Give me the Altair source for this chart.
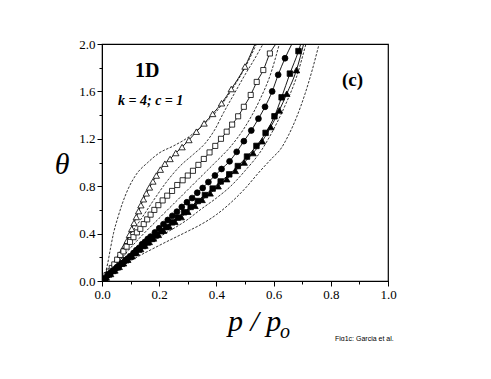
import altair as alt
import pandas as pd

# ---------------- data ----------------
# open triangles (markers) + solid line
OT_P = [0.008, 0.016, 0.024, 0.032, 0.04, 0.048, 0.056, 0.064, 0.072, 0.08, 0.088, 0.096,
        0.104, 0.112, 0.12, 0.128, 0.136, 0.145, 0.155, 0.166, 0.178, 0.19, 0.204, 0.22,
        0.238, 0.258, 0.28, 0.304, 0.33, 0.357, 0.387, 0.418, 0.452, 0.5]
OT_T = [0.02, 0.05, 0.08, 0.10, 0.13, 0.16, 0.19, 0.22, 0.26, 0.30, 0.34, 0.39,
        0.44, 0.49, 0.54, 0.59, 0.64, 0.69, 0.74, 0.79, 0.84, 0.89, 0.94, 0.99,
        1.03, 1.08, 1.13, 1.19, 1.26, 1.33, 1.41, 1.50, 1.62, 1.81]
# open squares
OS_P = [0.008, 0.016, 0.025, 0.034, 0.043, 0.053, 0.064, 0.075, 0.086, 0.098, 0.11, 0.122,
        0.134, 0.146, 0.158, 0.17, 0.183, 0.197, 0.212, 0.228, 0.245, 0.263, 0.282, 0.3,
        0.318, 0.337, 0.356, 0.376, 0.396, 0.416, 0.436, 0.455, 0.476, 0.496, 0.52, 0.541,
        0.564, 0.587]
OS_T = [0.02, 0.05, 0.08, 0.11, 0.14, 0.18, 0.22, 0.25, 0.29, 0.33, 0.37, 0.41,
        0.44, 0.48, 0.52, 0.56, 0.60, 0.64, 0.68, 0.72, 0.76, 0.81, 0.85, 0.89,
        0.93, 0.98, 1.03, 1.085, 1.14, 1.20, 1.26, 1.32, 1.39, 1.47, 1.57, 1.68,
        1.78, 1.92]
# filled circles
FC_P = [0.01, 0.02, 0.03, 0.04, 0.05, 0.06, 0.07, 0.08, 0.09, 0.1, 0.11, 0.12, 0.13, 0.14,
        0.15, 0.16, 0.17, 0.185, 0.2, 0.215, 0.23, 0.246, 0.262, 0.279, 0.297, 0.315,
        0.333, 0.352, 0.372, 0.395, 0.418, 0.446, 0.471, 0.496, 0.522, 0.547, 0.57,
        0.595, 0.616, 0.64]
FC_T = [0.02, 0.05, 0.07, 0.09, 0.11, 0.13, 0.15, 0.17, 0.19, 0.21, 0.235, 0.26, 0.28, 0.31,
        0.33, 0.355, 0.375, 0.41, 0.445, 0.48, 0.515, 0.55, 0.585, 0.625, 0.665, 0.70,
        0.745, 0.785, 0.835, 0.89, 0.945, 1.01, 1.09, 1.18, 1.27, 1.37, 1.47,
        1.60, 1.74, 1.88]
# filled squares
FS_P = [0.01, 0.025, 0.04, 0.055, 0.07, 0.085, 0.1, 0.115, 0.13, 0.145, 0.16, 0.175, 0.19,
        0.207, 0.225, 0.245, 0.265, 0.287, 0.31, 0.335, 0.36, 0.387, 0.415, 0.445, 0.475,
        0.507, 0.54, 0.572, 0.603, 0.628, 0.657, 0.687]
FS_T = [0.02, 0.055, 0.085, 0.115, 0.145, 0.175, 0.205, 0.235, 0.265, 0.295, 0.325, 0.355, 0.385,
        0.42, 0.455, 0.495, 0.535, 0.58, 0.625, 0.675, 0.725, 0.78, 0.84, 0.90, 0.97,
        1.05, 1.14, 1.25, 1.39, 1.55, 1.75, 1.94]
# filled triangles
FT_P = [0.015, 0.03, 0.045, 0.06, 0.075, 0.09, 0.105, 0.12, 0.135, 0.15, 0.165, 0.18, 0.197,
        0.215, 0.235, 0.255, 0.277, 0.3, 0.325, 0.35, 0.378, 0.406, 0.436, 0.466, 0.497,
        0.528, 0.56, 0.59, 0.62, 0.646, 0.68]
FT_T = [0.03, 0.06, 0.09, 0.12, 0.15, 0.18, 0.21, 0.24, 0.27, 0.30, 0.33, 0.36, 0.39,
        0.425, 0.46, 0.50, 0.54, 0.585, 0.635, 0.685, 0.74, 0.80, 0.86, 0.93, 1.0,
        1.08, 1.18, 1.30, 1.44, 1.58, 1.78]
# where each solid line leaves the top of the frame (theta = 2)
TOP_P = {"OT": 0.535, "OS": 0.608, "FC": 0.664, "FS": 0.695, "FT": 0.705}

# dashed curves
D1_P = [0, 0.01, 0.02, 0.03, 0.04, 0.056, 0.072, 0.092, 0.12, 0.16, 0.2, 0.25, 0.3, 0.35, 0.4, 0.45, 0.5, 0.54]
D1_T = [0, 0.05, 0.15, 0.28, 0.40, 0.54, 0.66, 0.78, 0.90, 1.0, 1.08, 1.14, 1.21, 1.31, 1.43, 1.6, 1.8, 2.0]
D2_P = [0, 0.02, 0.05, 0.09, 0.133, 0.18, 0.23, 0.273, 0.32, 0.36, 0.395, 0.425, 0.46, 0.5, 0.535, 0.563]
D2_T = [0, 0.07, 0.19, 0.36, 0.51, 0.68, 0.85, 0.97, 1.07, 1.16, 1.28, 1.42, 1.57, 1.74, 1.88, 2.0]
D3_P = [0, 0.05, 0.1, 0.15, 0.2, 0.25, 0.3, 0.35, 0.4, 0.448, 0.5, 0.55, 0.59, 0.62]
D3_T = [0, 0.14, 0.28, 0.41, 0.53, 0.65, 0.77, 0.89, 1.01, 1.13, 1.30, 1.52, 1.75, 2.0]
D4_P = [0, 0.03, 0.1, 0.2, 0.3, 0.343, 0.4, 0.45, 0.5, 0.558, 0.6, 0.64, 0.68, 0.713]
D4_T = [0, 0.07, 0.2, 0.37, 0.52, 0.6, 0.7, 0.8, 0.93, 1.105, 1.28, 1.48, 1.72, 2.0]
D5_P = [0, 0.03, 0.1, 0.2, 0.3, 0.343, 0.4, 0.45, 0.5, 0.55, 0.6, 0.622, 0.65, 0.68, 0.71, 0.735, 0.759]
D5_T = [0, 0.06, 0.17, 0.30, 0.42, 0.473, 0.56, 0.66, 0.78, 0.92, 1.05, 1.105, 1.22, 1.38, 1.58, 1.78, 2.0]

X_TICKS = [0.0, 0.2, 0.4, 0.6, 0.8, 1.0]
X_MINOR = [0.1, 0.3, 0.5, 0.7, 0.9]
Y_TICKS = [0.0, 0.4, 0.8, 1.2, 1.6, 2.0]
Y_MINOR = [0.2, 0.6, 1.0, 1.4, 1.8]

# ---------------- tables ----------------
markers = {"OT": (OT_P, OT_T), "OS": (OS_P, OS_T), "FC": (FC_P, FC_T),
           "FS": (FS_P, FS_T), "FT": (FT_P, FT_T)}
mk_df = {k: pd.DataFrame({"p": v[0], "theta": v[1]}) for k, v in markers.items()}

solid_rows = []
for k, (ps, ts) in markers.items():
    pts = [(0.0, 0.0)] + list(zip(ps, ts)) + [(TOP_P[k], 2.0)]
    for i, (p, t) in enumerate(pts):
        solid_rows.append({"s": k, "i": i, "p": p, "theta": t})
solid_df = pd.DataFrame(solid_rows)

dash_rows = []
for k, (ps, ts) in {"D1": (D1_P, D1_T), "D2": (D2_P, D2_T), "D3": (D3_P, D3_T),
                    "D4": (D4_P, D4_T), "D5": (D5_P, D5_T)}.items():
    for i, (p, t) in enumerate(zip(ps, ts)):
        dash_rows.append({"s": k, "i": i, "p": p, "theta": t})
dash_df = pd.DataFrame(dash_rows)

xs = alt.Scale(domain=[0, 1], nice=False, zero=False)
ys = alt.Scale(domain=[0, 2], nice=False, zero=False)
SERIF = "Liberation Serif"

main_x_axis = alt.Axis(values=X_TICKS, format=".1f", title=None, grid=False,
                       tickSize=5, tickColor="black", domainColor="black",
                       labelFont=SERIF, labelFontSize=13, labelColor="black",
                       labelPadding=2, labelFlush=False, orient="bottom")
main_y_axis = alt.Axis(values=Y_TICKS, format=".1f", title=None, grid=False,
                       tickSize=5, tickColor="black", domainColor="black",
                       labelFont=SERIF, labelFontSize=13, labelColor="black",
                       labelPadding=2, labelFlush=False, orient="left")
minor_x_axis = alt.Axis(values=X_MINOR, labels=False, title=None, grid=False,
                        tickSize=3, tickColor="black", domain=False, orient="bottom")
minor_y_axis = alt.Axis(values=Y_MINOR, labels=False, title=None, grid=False,
                        tickSize=3, tickColor="black", domain=False, orient="left")

solid = alt.Chart(solid_df).mark_line(color="black", strokeWidth=0.9, clip=True,
                                      interpolate="monotone").encode(
    x=alt.X("p:Q", scale=xs, axis=main_x_axis),
    y=alt.Y("theta:Q", scale=ys, axis=main_y_axis),
    detail="s:N", order="i:Q")

dashed = alt.Chart(dash_df).mark_line(color="black", strokeWidth=0.8, strokeDash=[2.5, 1.5],
                                      clip=True, interpolate="monotone").encode(
    x=alt.X("p:Q", scale=xs, axis=minor_x_axis),
    y=alt.Y("theta:Q", scale=ys, axis=minor_y_axis),
    detail="s:N", order="i:Q")


def pts(key, shape, size, filled):
    fill = "black" if filled else "white"
    return alt.Chart(mk_df[key]).mark_point(shape=shape, size=size, fill=fill, stroke="black",
                                            strokeWidth=0.8, opacity=1, fillOpacity=1,
                                            filled=True, clip=True).encode(
        x=alt.X("p:Q", scale=xs, axis=None),
        y=alt.Y("theta:Q", scale=ys, axis=None))


m_ot = pts("OT", "triangle-up", 40, False)
m_os = pts("OS", "square", 26, False)
m_fc = pts("FC", "circle", 34, True)
m_fs = pts("FS", "square", 30, True)
m_ft = pts("FT", "triangle-up", 42, True)

one = pd.DataFrame({"a": [0]})


def label(txt, x, y, size, weight="normal", style="normal", font=SERIF, align="left",
          baseline="alphabetic"):
    return alt.Chart(one).mark_text(font=font, fontSize=size, fontWeight=weight,
                                    fontStyle=style, align=align, baseline=baseline,
                                    color="black").encode(
        x=alt.value(x), y=alt.value(y), text=alt.value(txt))


t_1d = label("1D", 33, 33, 20, weight="bold")
t_k = label("k = 4; c = 1", 16, 61, 14, weight="bold", style="italic")
t_c = label("(c)", 240, 42, 19, weight="bold")
t_theta = label("θ", -40, 130, 30, style="italic", align="center")
t_pp = label("p / p", 126, 287, 30, style="italic")
t_o = label("o", 178, 294, 20, style="italic")
t_fig = label("Fig1c: Garcia et al.", 233, 297, 7, font="Liberation Sans")

chart = alt.layer(
    dashed, solid, m_ot, m_os, m_fc, m_fs, m_ft,
    t_1d, t_k, t_c, t_theta, t_pp, t_o, t_fig
).resolve_axis(x="independent", y="independent").properties(
    width=286, height=237,
    autosize=alt.AutoSizeParams(type="none"),
    padding={"left": 94, "top": 36, "right": 70, "bottom": 60},
    background="white",
).configure_view(stroke="black", strokeWidth=1.2).configure_axis(
    labelFont=SERIF, labelFontSize=13, labelColor="black", labelFlush=False)

chart.save("out.html", embed_options={"renderer": "svg", "actions": False})
